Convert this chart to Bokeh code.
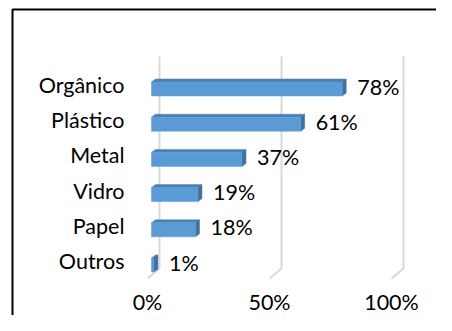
from bokeh.plotting import figure
from bokeh.models import ColumnDataSource, Range1d
from bokeh.core.properties import value
from bokeh.embed import file_html
from bokeh.resources import INLINE

# ---- data ----
categories = ["Orgânico", "Plástico", "Metal", "Vidro", "Papel", "Outros"]
values = [78, 61, 37, 19, 18, 1]
tick_values = [0, 50, 100]
tick_labels = ["0%", "50%", "100%"]

# ---- geometry (pixels -> data units) ----
W, H = 436, 315
X0_PX = 147.0          # px of 0% (front plane) from canvas left
SX = 2.44              # px per 1%
Y5_PX = 84.0           # px of top row from canvas top
SY = 35.2              # px per row

x_start = -X0_PX / SX
x_end = (W - X0_PX) / SX
y_top = (len(categories) - 1) + Y5_PX / SY
y_bot = y_top - H / SY

def px(n):
    return n / SX

def py(n):
    return n / SY

p = figure(width=W, height=H, output_backend="svg", toolbar_location=None,
           x_range=Range1d(x_start, x_end), y_range=Range1d(y_bot, y_top),
           x_axis_location=None, y_axis_location=None,
           min_border=0, outline_line_color=None)
p.grid.visible = False
p.background_fill_color = "white"
p.border_fill_color = "white"

FONT = value("Lato")
FS = "21.5px"

rows = [len(categories) - 1 - i for i in range(len(categories))]

# chart border (top and left edges visible)
bx = x_start + px(12)
by = y_top - py(9)
p.line(x=[bx, bx, x_end + 5], y=[y_bot - 1, by, by], line_color="black", line_width=2)

# 3D gridlines
g_top = rows[0] + py(28)
g_floor = rows[-1] - py(8)
g_front = rows[-1] - py(18)
gx, gy = [], []
for t in tick_values:
    gx.append([t + px(12), t + px(12), t])
    gy.append([g_top, g_floor, g_front])
p.multi_line(xs=gx, ys=gy, line_color="#D9D9D9", line_width=2)

# bars with 3D faces
dx, dy = px(4), py(3)
front_l, front_r, front_b, front_t = [], [], [], []
top_xs, top_ys, side_xs, side_ys = [], [], [], []
for r, v in zip(rows, values):
    l = px(4)
    rr = px(4) + v * 2.445 / SX
    c = r - py(4.5)
    b, t = c - py(7), c + py(7)
    front_l.append(l); front_r.append(rr); front_b.append(b); front_t.append(t)
    top_xs.append([l, l + dx, rr + dx, rr])
    top_ys.append([t, t + dy, t + dy, t])
    side_xs.append([rr, rr + dx, rr + dx, rr])
    side_ys.append([t, t + dy, b + dy, b])

p.patches(xs=top_xs, ys=top_ys, fill_color="#4D7FB3", line_color="#4D7FB3", line_width=0.5)
p.patches(xs=side_xs, ys=side_ys, fill_color="#41719C", line_color="#41719C", line_width=0.5)
p.quad(left=front_l, right=front_r, bottom=front_b, top=front_t,
       fill_color="#5B9BD5", line_color="#5B9BD5", line_width=0.5)

# value labels
vsrc = ColumnDataSource(dict(
    x=[rr + px(15) for rr in front_r],
    y=[r - py(2) for r in rows],
    text=[f"{v}%" for v in values]))
p.text(x="x", y="y", text="text", source=vsrc, text_font=FONT, text_font_size=FS,
       text_color="black", text_align="left", text_baseline="middle")

# category labels
csrc = ColumnDataSource(dict(x=[-px(23)] * len(categories),
                             y=[r - py(0.5) for r in rows], text=categories))
p.text(x="x", y="y", text="text", source=csrc, text_font=FONT, text_font_size=FS,
       text_color="black", text_align="right", text_baseline="middle")

# x tick labels
tsrc = ColumnDataSource(dict(x=tick_values, y=[rows[-1] - py(41)] * len(tick_values),
                             text=tick_labels))
p.text(x="x", y="y", text="text", source=tsrc, text_font=FONT, text_font_size=FS,
       text_color="black", text_align="center", text_baseline="middle")

open("out.html", "w").write(file_html(p, INLINE))
